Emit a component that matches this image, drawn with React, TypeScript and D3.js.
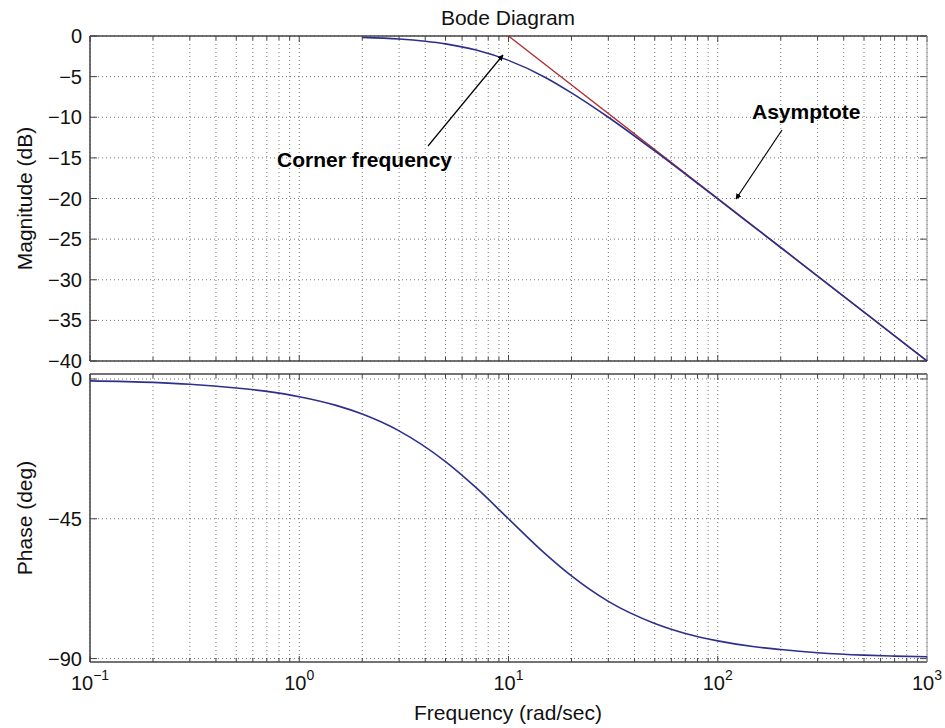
import React from "react";
import * as d3 from "d3";

// ---- Data ----
const magFreq = [2, 3, 4, 5, 7, 10, 15, 20, 30, 50, 70, 100, 150, 200, 300, 500, 700, 1000];
const magDb = [-0.17, -0.37, -0.65, -0.97, -1.73, -3.0, -5.1, -7.0, -10.0, -14.15, -17.0, -20.05, -23.55, -26.03, -29.55, -33.98, -36.9, -40.0];

const phaseFreq = [0.1, 0.2, 0.3, 0.5, 0.7, 1, 1.5, 2, 3, 5, 7, 10, 15, 20, 30, 50, 70, 100, 150, 200, 300, 500, 700, 1000];
const phaseDeg = [-0.6, -1.1, -1.7, -2.9, -4.0, -5.7, -8.5, -11.3, -16.7, -26.6, -35.0, -45.0, -56.3, -63.4, -71.6, -78.7, -81.9, -84.3, -86.2, -87.1, -88.1, -88.9, -89.2, -89.4];

const asymFreq = [10, 1000];
const asymDb = [0, -40];

const magTicks = [0, -5, -10, -15, -20, -25, -30, -35, -40];
const phaseTicks = [0, -45, -90];
const decadeExps = [-1, 0, 1, 2, 3];

const FONT = "'Liberation Sans', Arial, Helvetica, sans-serif";

export default function App() {
  const W = 945, H = 728;
  const left = 90, right = 927;
  const topT = 36, topB = 361;
  const botT = 374, botB = 662;

  const x = d3.scaleLog().domain([0.1, 1000]).range([left, right]);
  const yMag = d3.scaleLinear().domain([-40, 0]).range([topB, topT]);
  const yPh = d3.scaleLinear().domain([-91.1, 1.6]).range([botB, botT]);

  const minorFreqs: number[] = [];
  for (let e = -1; e < 3; e++) {
    for (let k = 1; k <= 9; k++) minorFreqs.push(k * Math.pow(10, e));
  }
  minorFreqs.push(1000);
  const majors = decadeExps.map((e) => Math.pow(10, e));

  const magLine = d3
    .line<number>()
    .x((_, i) => x(magFreq[i]))
    .y((d) => yMag(d))
    .curve(d3.curveMonotoneX);
  const phLine = d3
    .line<number>()
    .x((_, i) => x(phaseFreq[i]))
    .y((d) => yPh(d))
    .curve(d3.curveMonotoneX);
  const asymLine = d3
    .line<number>()
    .x((_, i) => x(asymFreq[i]))
    .y((d) => yMag(d));

  const gridStroke = "#777";
  const gridDash = "1,3";
  const axisColor = "#444";

  const panel = (
    yT: number,
    yB: number,
    yScale: d3.ScaleLinear<number, number>,
    yTicks: number[],
    key: string
  ) => (
    <g key={key}>
      {minorFreqs.map((f, i) => (
        <line
          key={"vg" + i}
          x1={x(f)}
          x2={x(f)}
          y1={yT}
          y2={yB}
          stroke={gridStroke}
          strokeWidth={1}
          strokeDasharray={gridDash}
        />
      ))}
      {yTicks.map((t, i) => (
        <line
          key={"hg" + i}
          x1={left}
          x2={right}
          y1={yScale(t)}
          y2={yScale(t)}
          stroke={gridStroke}
          strokeWidth={1}
          strokeDasharray={gridDash}
        />
      ))}
      {minorFreqs.map((f, i) => {
        const isMajor = majors.some((m) => Math.abs(m - f) < 1e-9);
        const len = isMajor ? 6 : 4;
        return (
          <g key={"xt" + i}>
            <line x1={x(f)} x2={x(f)} y1={yB} y2={yB - len} stroke={axisColor} strokeWidth={1} />
            <line x1={x(f)} x2={x(f)} y1={yT} y2={yT + len} stroke={axisColor} strokeWidth={1} />
          </g>
        );
      })}
      {yTicks.map((t, i) => (
        <g key={"yt" + i}>
          <line x1={left} x2={left + 7} y1={yScale(t)} y2={yScale(t)} stroke={axisColor} strokeWidth={1} />
          <line x1={right} x2={right - 7} y1={yScale(t)} y2={yScale(t)} stroke={axisColor} strokeWidth={1} />
          <text
            x={left - 8}
            y={yScale(t)}
            textAnchor="end"
            dominantBaseline="central"
            fontSize={20}
            fontFamily={FONT}
            fill="#111"
          >
            {t < 0 ? "\u2212" + Math.abs(t) : String(t)}
          </text>
        </g>
      ))}
      <line x1={left} x2={right} y1={yT} y2={yT} stroke={axisColor} strokeWidth={1.5} />
      <line x1={left} x2={right} y1={yB} y2={yB} stroke={axisColor} strokeWidth={1.5} />
      <line x1={left} x2={left} y1={yT} y2={yB} stroke={axisColor} strokeWidth={1.5} />
      <line x1={right} x2={right} y1={yT} y2={yB} stroke="#999" strokeWidth={1} />
    </g>
  );

  return (
    <div style={{ position: "absolute", left: 0, top: 0 }}>
      <svg width={W} height={H} style={{ display: "block", background: "#fff" }}>
        <defs>
          <marker
            id="arrowhead"
            viewBox="0 0 10 10"
            refX={9}
            refY={5}
            markerWidth={5}
            markerHeight={5}
            orient="auto"
          >
            <path d="M0,0 L10,5 L0,10 Z" fill="#000" />
          </marker>
        </defs>

        {panel(topT, topB, yMag, magTicks, "mag")}
        {panel(botT, botB, yPh, phaseTicks, "ph")}

        <path d={asymLine(asymDb) || ""} fill="none" stroke="#b02a2a" strokeWidth={1.3} />
        <path d={magLine(magDb) || ""} fill="none" stroke="#2c2f8c" strokeWidth={1.6} />
        <path d={phLine(phaseDeg) || ""} fill="none" stroke="#2c2f8c" strokeWidth={1.6} />

        {decadeExps.map((e) => (
          <text
            key={"xl" + e}
            x={x(Math.pow(10, e))}
            y={690}
            textAnchor="middle"
            fontFamily={FONT}
            fill="#111"
          >
            <tspan fontSize={20}>10</tspan>
            <tspan fontSize={14} dy={-10}>
              {e < 0 ? "\u2212" + Math.abs(e) : String(e)}
            </tspan>
          </text>
        ))}

        <text x={508} y={25} textAnchor="middle" fontSize={21} fontFamily={FONT} fill="#111">
          Bode Diagram
        </text>
        <text
          transform={`translate(32, ${(topT + topB) / 2}) rotate(-90)`}
          textAnchor="middle"
          fontSize={21}
          fontFamily={FONT}
          fill="#111"
        >
          Magnitude (dB)
        </text>
        <text
          transform={`translate(32, ${(botT + botB) / 2}) rotate(-90)`}
          textAnchor="middle"
          fontSize={21}
          fontFamily={FONT}
          fill="#111"
        >
          Phase (deg)
        </text>
        <text x={508} y={720} textAnchor="middle" fontSize={21} fontFamily={FONT} fill="#111">
          Frequency (rad/sec)
        </text>

        <text x={277} y={167} fontSize={21} fontWeight="bold" fontFamily={FONT} fill="#000">
          Corner frequency
        </text>
        <line x1={428} y1={146} x2={503} y2={55} stroke="#000" strokeWidth={1.2} markerEnd="url(#arrowhead)" />
        <text x={752} y={119} fontSize={21} fontWeight="bold" fontFamily={FONT} fill="#000">
          Asymptote
        </text>
        <line x1={782} y1={130} x2={736} y2={199} stroke="#000" strokeWidth={1.2} markerEnd="url(#arrowhead)" />
      </svg>
    </div>
  );
}
